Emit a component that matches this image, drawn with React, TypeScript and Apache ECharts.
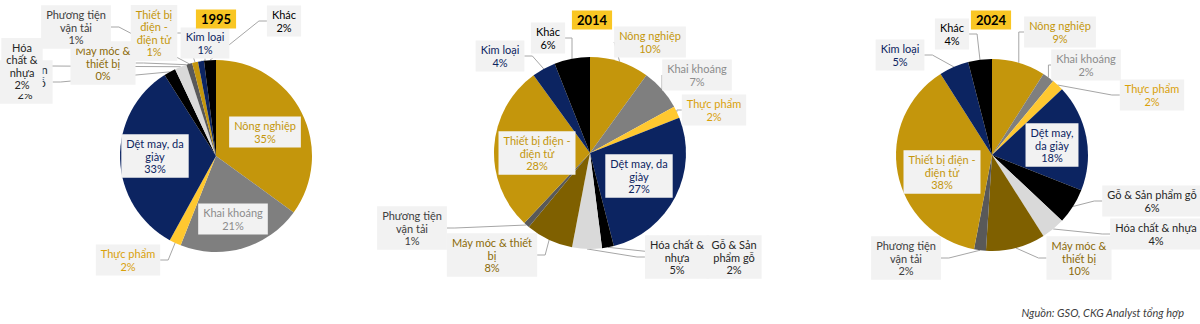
import React, { useEffect, useRef } from 'react';
import * as echarts from 'echarts';

const categories = [
  'Nông nghiệp', 'Khai khoáng', 'Thực phẩm', 'Dệt may, da giày', 'Gỗ & Sản phẩm gỗ',
  'Hóa chất & nhựa', 'Máy móc & thiết bị', 'Phương tiện vận tải', 'Thiết bị điện - điện tử',
  'Kim loại', 'Khác',
];
const years = ['1995', '2014', '2024'];
const values1995 = [35, 21, 2, 33, 2, 2, 0, 1, 1, 1, 2];
const values2014 = [10, 7, 2, 27, 2, 5, 8, 1, 28, 4, 6];
const values2024 = [9, 2, 2, 18, 6, 4, 10, 2, 38, 5, 4];

const labelText1995 = [
  'Nông nghiệp', 'Khai khoáng', 'Thực phẩm', 'Dệt may, da\ngiày', 'Gỗ & Sản\nphẩm gỗ',
  'Hóa\nchất &\nnhựa', 'Máy móc &\nthiết bị', 'Phương tiện\nvận tải', 'Thiết bị\nđiện -\nđiện tử',
  'Kim loại', 'Khác',
];
const labelText2014 = [
  'Nông nghiệp', 'Khai khoáng', 'Thực phẩm', 'Dệt may, da\ngiày', 'Gỗ & Sản\nphẩm gỗ',
  'Hóa chất &\nnhựa', 'Máy móc & thiết\nbị', 'Phương tiện\nvận tải', 'Thiết bị điện -\nđiện tử',
  'Kim loại', 'Khác',
];
const labelText2024 = [
  'Nông nghiệp', 'Khai khoáng', 'Thực phẩm', 'Dệt may,\nda giày', 'Gỗ & Sản phẩm gỗ',
  'Hóa chất & nhựa', 'Máy móc &\nthiết bị', 'Phương tiện\nvận tải', 'Thiết bị điện -\nđiện tử',
  'Kim loại', 'Khác',
];
const sourceNote = 'Nguồn: GSO, CKG Analyst tổng hợp';

// styling / layout (not data)
const sliceColors = ['#C4960C', '#7F7F7F', '#FFC830', '#0C2461', '#000000', '#D9D9D9', '#7F6000', '#595959', '#C4960C', '#0C2461', '#000000'];
const textColors = ['#C4960C', '#8C8C8C', '#D9A10A', '#0C2461', '#262626', '#262626', '#8B6A08', '#404040', '#C4960C', '#0C2461', '#000000'];
const pieCenters = [[216, 156], [590, 153], [992, 155]];
const pieRadius = 96;
const titlePos = [[216, 19], [592, 20], [991, 20]];
const insideIdx = [[0, 1, 3], [3, 8], [3, 8]];
const labelPos = [
  [[265, 132], [233, 219], [128, 260], [155, 156], [25, 82], [22, 66], [103, 63], [76, 27], [154, 33], [205, 43], [284, 21]],
  [[650, 42], [697, 75], [714, 110], [639, 176], [734, 257], [677, 257], [492, 255], [412, 228], [537, 153], [500, 56], [548, 38]],
  [[1060, 32], [1086, 65], [1152, 95], [1052, 145], [1152, 201], [1156, 234], [1079, 258], [906, 258], [942, 172], [900, 55], [952, 34]],
];

const FONT = 'Lato, "Noto Sans", sans-serif';

export default function App() {
  const ref = useRef<HTMLDivElement>(null);
  useEffect(() => {
    document.body.style.margin = '0';
    if (!ref.current) return;
    const chart = echarts.init(ref.current, undefined, { renderer: 'svg' });
    const allValues = [values1995, values2014, values2024];
    const allTexts = [labelText1995, labelText2014, labelText2024];

    const series = allValues.map((vals, s) => ({
      type: 'pie',
      center: pieCenters[s],
      radius: pieRadius,
      startAngle: 90,
      clockwise: true,
      avoidLabelOverlap: false,
      minShowLabelAngle: 0,
      stillShowZeroSum: true,
      silent: true,
      itemStyle: { borderWidth: 0 },
      label: {
        show: true,
        position: 'outside',
        fontFamily: FONT,
        fontSize: 11,
        lineHeight: 12.5,
        backgroundColor: '#F2F2F2',
        padding: [3, 5],
        align: 'center',
      },
      labelLine: {
        show: true,
        length: 8,
        length2: 8,
        lineStyle: { color: '#A6A6A6', width: 1 },
      },
      labelLayout: (params: any) => {
        const p = labelPos[s][params.dataIndex];
        return { x: p[0], y: p[1], align: 'center', verticalAlign: 'middle' };
      },
      data: vals.map((v, i) => ({
        name: categories[i],
        value: v,
        itemStyle: { color: sliceColors[i] },
        label: {
          color: textColors[i],
          formatter: allTexts[s][i] + '\n' + v + '%',
        },
        labelLine: { show: !insideIdx[s].includes(i) },
      })),
    }));

    const graphics: any[] = years.map((y, s) => ({
      type: 'text',
      x: titlePos[s][0],
      y: titlePos[s][1],
      style: {
        text: y,
        align: 'center',
        verticalAlign: 'middle',
        fontFamily: FONT,
        fontSize: 13,
        fontWeight: 'bold',
        fill: '#000000',
        backgroundColor: '#F9C623',
        padding: [3, 5],
      },
      z: 10,
    }));
    graphics.push({
      type: 'text',
      x: 1184,
      y: 312,
      style: {
        text: sourceNote,
        align: 'right',
        verticalAlign: 'middle',
        fontFamily: FONT,
        fontSize: 11,
        fontStyle: 'italic',
        fill: '#404040',
      },
    });

    chart.setOption({
      animation: false,
      backgroundColor: '#FFFFFF',
      series,
      graphic: graphics,
    });
    return () => chart.dispose();
  }, []);
  return <div ref={ref} style={{ width: 1200, height: 324 }} />;
}
